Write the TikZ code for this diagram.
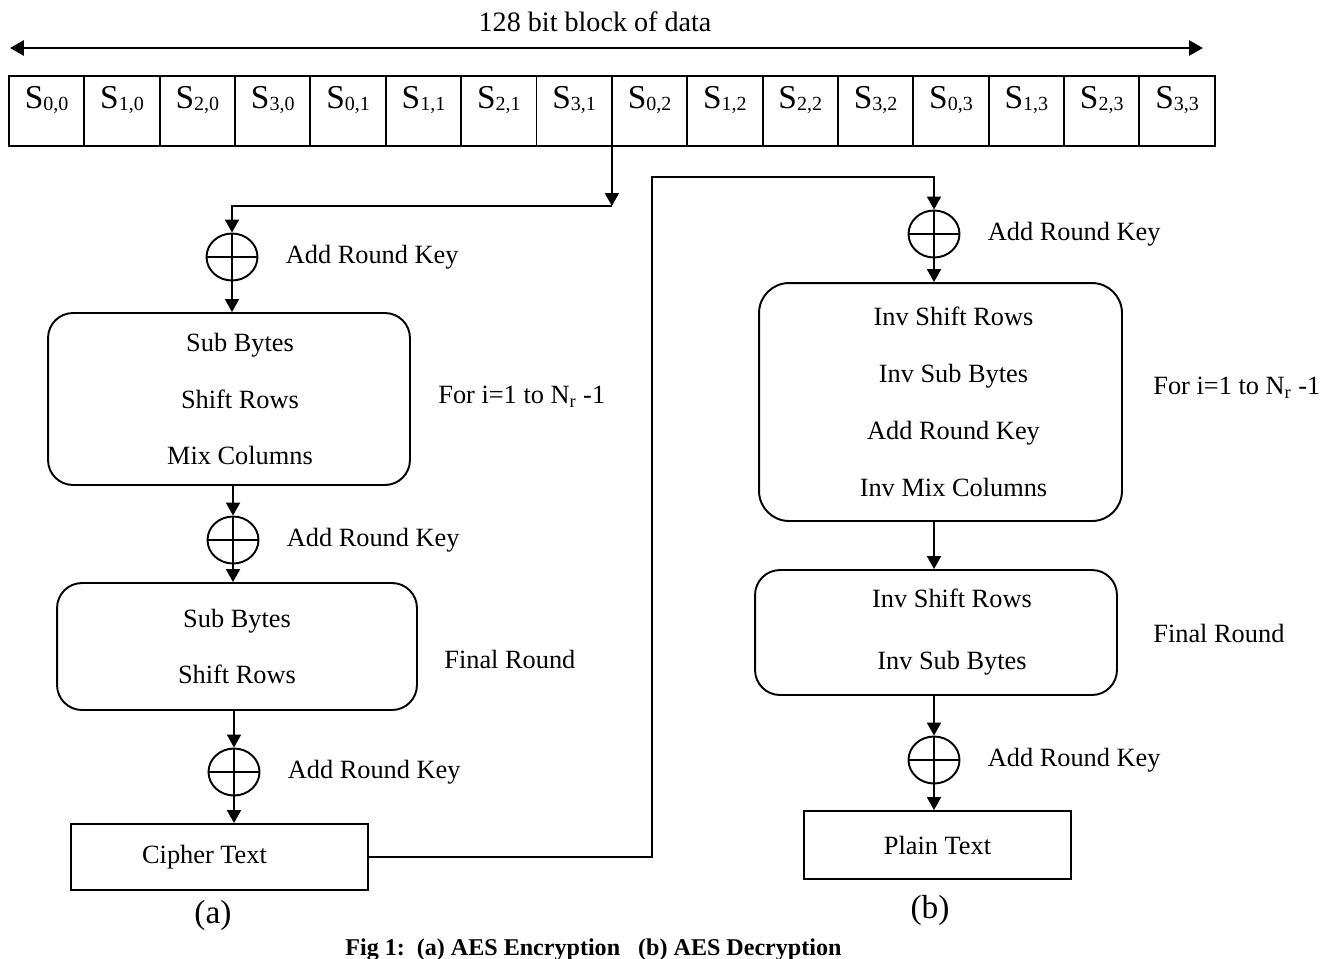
\documentclass[tikz,border=0pt]{standalone}
\usepackage{fontspec}
\setmainfont{Liberation Serif}
\usetikzlibrary{arrows.meta,positioning,shapes.geometric}
\newcommand{\cellsub}[1]{\raisebox{-1.5pt}{\fontsize{11.4}{12}\selectfont #1}}

\begin{document}
\begin{tikzpicture}[
    x=0.02cm, y=-0.02cm,
    cell/.style={draw, line width=1.1pt, outer sep=0pt, inner sep=0pt, minimum width=1.5075cm, text height=0.64cm, text depth=0.76cm, font=\fontsize{19}{22}\selectfont},
    box/.style={draw, line width=1.1pt, rounded corners=0.5cm, align=center, font=\fontsize{15}{32.4}\selectfont},
    plainbox/.style={draw, line width=1.1pt, align=center, font=\fontsize{15}{18}\selectfont},
    xorc/.style={draw, ellipse, line width=1.1pt, minimum width=1.02cm, minimum height=0.94cm, inner sep=0pt,
        path picture={\draw[line width=1.1pt] (path picture bounding box.north) -- (path picture bounding box.south)
            (path picture bounding box.west) -- (path picture bounding box.east);}},
    lbl/.style={inner sep=0pt, anchor=west, font=\fontsize{15}{18}\selectfont},
    arrow/.style={-{Triangle[length=2.6mm, width=2.8mm]}, line width=1.1pt},
    dbl/.style={<->, >={Triangle[length=2.8mm, width=3mm]}, line width=1.6pt}
]
\useasboundingbox (0,0) rectangle (1331,958);

% block of data
\node[font=\fontsize{16}{18}\selectfont] (title) at (595,22) {128 bit block of data};
\coordinate (bl) at (10,48);
\coordinate (br) at (1203,48);
\draw[dbl] (bl) -- (br);

\node[cell, anchor=north west] (c1) at (9,76) {S\cellsub{0,0}};
\node[cell, right=0pt of c1] (c2) {S\cellsub{1,0}};
\node[cell, right=0pt of c2] (c3) {S\cellsub{2,0}};
\node[cell, right=0pt of c3] (c4) {S\cellsub{3,0}};
\node[cell, right=0pt of c4] (c5) {S\cellsub{0,1}};
\node[cell, right=0pt of c5] (c6) {S\cellsub{1,1}};
\node[cell, right=0pt of c6] (c7) {S\cellsub{2,1}};
\node[cell, right=0pt of c7] (c8) {S\cellsub{3,1}};
\node[cell, right=0pt of c8] (c9) {S\cellsub{0,2}};
\node[cell, right=0pt of c9] (c10) {S\cellsub{1,2}};
\node[cell, right=0pt of c10] (c11) {S\cellsub{2,2}};
\node[cell, right=0pt of c11] (c12) {S\cellsub{3,2}};
\node[cell, right=0pt of c12] (c13) {S\cellsub{0,3}};
\node[cell, right=0pt of c13] (c14) {S\cellsub{1,3}};
\node[cell, right=0pt of c14] (c15) {S\cellsub{2,3}};
\node[cell, right=0pt of c15] (c16) {S\cellsub{3,3}};

% (a) encryption
\node[xorc] (x1) at (232,257) {};
\node[lbl, right=0.54cm of x1] (k1) {Add Round Key};
\node[box, minimum width=7.24cm, minimum height=3.44cm] (b1) at (229,399) {\hspace*{0.44cm}Sub Bytes\\\hspace*{0.44cm}Shift Rows\\\hspace*{0.44cm}Mix Columns};
\node[lbl] (r1) at (438,397) {For i=1 to N\textsubscript{r} -1};
\node[xorc] (x2) at (233,540) {};
\node[lbl, right=0.54cm of x2] (k2) {Add Round Key};
\node[box, minimum width=7.2cm, minimum height=2.54cm] (b2) at (237,646.5) {Sub Bytes\\Shift Rows};
\node[lbl] (f1) at (444,659) {Final Round};
\node[xorc] (x3) at (234,772) {};
\node[lbl, right=0.54cm of x3] (k3) {Add Round Key};
\node[plainbox, minimum width=5.94cm, minimum height=1.32cm] (ct) at (219.5,857) {Cipher Text\hspace*{0.6cm}};

\coordinate (tap) at (612,206);
\draw[arrow] (c8.south east) -- (c8.south east |- tap);
\draw[arrow] (tap) -| (x1.north);
\draw[arrow] (x1.south) -- (x1.south |- b1.north);
\draw[arrow] (b1.south -| x2) -- (x2.north);
\draw[arrow] (x2.south) -- (x2.south |- b2.north);
\draw[arrow] (b2.south -| x3) -- (x3.north);
\draw[arrow] (x3.south) -- (x3.south |- ct.north);

% (b) decryption
\node[xorc] (x4) at (934,234) {};
\node[lbl, right=0.54cm of x4] (k4) {Add Round Key};
\node[box, rounded corners=0.6cm, minimum width=7.26cm, minimum height=4.76cm] (b3) at (940.5,402) {\hspace*{0.52cm}Inv Shift Rows\\\hspace*{0.52cm}Inv Sub Bytes\\\hspace*{0.52cm}Add Round Key\\\hspace*{0.52cm}Inv Mix Columns};
\node[lbl] (r2) at (1153,388) {For i=1 to N\textsubscript{r} -1};
\node[box, minimum width=7.24cm, minimum height=2.5cm, font=\fontsize{15}{35.3}\selectfont] (b4) at (936,632.5) {\hspace*{0.64cm}Inv Shift Rows\\\hspace*{0.64cm}Inv Sub Bytes};
\node[lbl] (f2) at (1153,633) {Final Round};
\node[xorc] (x5) at (934,760) {};
\node[lbl, right=0.54cm of x5] (k5) {Add Round Key};
\node[plainbox, minimum width=5.34cm, minimum height=1.36cm] (pt) at (937.5,845) {Plain Text};

\coordinate (up) at (652,177);
\draw[arrow] (ct.east) -| (up) -| (x4.north);
\draw[arrow] (x4.south) -- (x4.south |- b3.north);
\draw[arrow] (b3.south -| x4) -- (b4.north -| x4);
\draw[arrow] (b4.south -| x5) -- (x5.north);
\draw[arrow] (x5.south) -- (x5.south |- pt.north);

% captions
\node[font=\fontsize{19}{22}\selectfont] (capa) at (213,915) {(a)};
\node[font=\fontsize{19}{22}\selectfont] (capb) at (930,910) {(b)};
\node[font={\fontsize{13.7}{16}\selectfont\bfseries}, anchor=base west, inner sep=0pt] (cap) at (345,955) {Fig 1:\ \ (a) AES Encryption\ \ \ (b) AES Decryption};
\end{tikzpicture}
\end{document}
